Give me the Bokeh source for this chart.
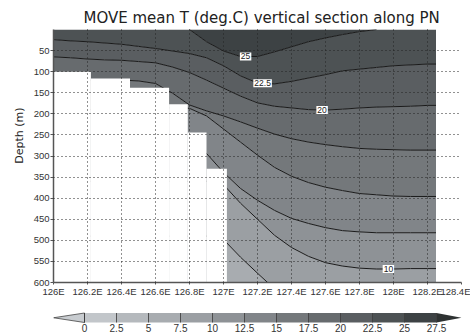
import numpy as np
from bokeh.plotting import figure
from bokeh.models import Range1d, FixedTicker, Label, Title
from bokeh.layouts import column
from bokeh.core.properties import value
from bokeh.embed import file_html
from bokeh.resources import INLINE

# ---- section data: depth (m) of each isotherm along the PN line ----
lon = [126.0, 126.1, 126.2, 126.3, 126.4, 126.5, 126.6, 126.7, 126.8, 126.9,
       127.0, 127.1, 127.2, 127.3, 127.4, 127.5, 127.6, 127.7, 127.8, 127.9,
       128.0, 128.1, 128.2, 128.25]

iso_25 = [0, 0, 0, 0, 0, 0, 0, 0, 0, 29,
          51, 64, 64, 53, 41, 29, 20, 12, 5, 0,
          0, 0, 0, 0]
iso_22_5 = [24, 27, 29, 32, 35, 40, 45, 51, 57, 67,
            86, 110, 127, 129, 123, 115, 107, 98, 94, 90,
            86, 84, 82, 82]
iso_20 = [65, 67, 70, 72, 73, 76, 79, 89, 102, 120,
          139, 158, 174, 182, 186, 190, 191, 189, 186, 184,
          183, 182, 180, 180]
iso_17_5 = [120, 120, 120, 120, 120, 122, 128, 151, 179, 193,
            205, 219, 234, 248, 259, 267, 273, 278, 282, 284,
            285, 286, 286, 286]
iso_15 = [190, 190, 190, 190, 190, 190, 190, 185, 187, 205,
          236, 267, 298, 327, 348, 363, 374, 382, 389, 392,
          395, 396, 396, 396]
iso_12_5 = [290, 290, 290, 290, 290, 290, 290, 290, 290, 294,
            339, 377, 405, 429, 448, 460, 470, 477, 480, 482,
            482, 482, 482, 482]
iso_10 = [360, 360, 360, 360, 360, 360, 360, 360, 360, 360,
          368, 412, 450, 488, 517, 538, 553, 561, 566, 568,
          568, 567, 567, 567]
iso_7_5 = [490, 490, 490, 490, 490, 490, 490, 490, 490, 490,
           498, 540, 578, 615, 640, 650, 650, 650, 650, 650,
           650, 650, 650, 650]

isotherms = [(25.0, iso_25), (22.5, iso_22_5), (20.0, iso_20), (17.5, iso_17_5),
             (15.0, iso_15), (12.5, iso_12_5), (10.0, iso_10), (7.5, iso_7_5)]

# bottom topography (steps) along the section
shelf_edges = [126.0, 126.22, 126.45, 126.68, 126.79, 126.9, 127.02]
shelf_depth = [100, 116, 138, 177, 244, 330]

# shading levels and colours (below 0, 0-2.5, ..., above 27.5)
levels = [0, 2.5, 5, 7.5, 10, 12.5, 15, 17.5, 20, 22.5, 25, 27.5]
level_labels = ["0", "2.5", "5", "7.5", "10", "12.5", "15", "17.5", "20", "22.5", "25", "27.5"]
shade = ["#c8ccd0", "#c2c6ca", "#b5b9bd", "#a8acb0", "#9b9fa3", "#8e9296",
         "#818589", "#74787b", "#676b6e", "#5a5e61", "#4d5254", "#3d4244", "#2e3232"]

# contour labels: (level, longitude of label)
contour_labels = [(25.0, 127.13), (22.5, 127.23), (20.0, 127.58), (10.0, 127.97)]

x_ticks = [126.0, 126.2, 126.4, 126.6, 126.8, 127.0, 127.2, 127.4, 127.6, 127.8, 128.0, 128.2, 128.4]
x_tick_labels = ["126E", "126.2E", "126.4E", "126.6E", "126.8E", "127E", "127.2E",
                 "127.4E", "127.6E", "127.8E", "128E", "128.2E", "128.4E"]
y_ticks = [50, 100, 150, 200, 250, 300, 350, 400, 450, 500, 550, 600]

title_text = "MOVE mean T (deg.C) vertical section along PN"
y_title = "Depth (m)"

TICK_FONT = "Liberation Sans"
TITLE_FONT = "DejaVu Sans"
BORDER_LEFT, BORDER_RIGHT = 53, 9


def band_colour(lo):
    """Colour for the interval [lo, lo + 2.5)."""
    if lo < levels[0]:
        return shade[0]
    return shade[levels.index(lo) + 1]


p = figure(width=470, height=300, x_range=Range1d(126.0, 128.4), y_range=Range1d(600, 0),
           output_backend="svg", toolbar_location=None,
           min_border_left=BORDER_LEFT, min_border_right=BORDER_RIGHT,
           min_border_top=29, min_border_bottom=18)
p.outline_line_color = None
p.background_fill_color = "white"
p.border_fill_color = "white"

x = np.array(lon, dtype=float)
upper = np.zeros(len(lon))
bottom = np.full(len(lon), p.y_range.start)

# shaded bands between successive isotherms
for lev, iso in isotherms:
    iso = np.array(iso, dtype=float)
    p.varea(x=x, y1=upper, y2=iso, fill_color=band_colour(lev))
    upper = iso
p.varea(x=x, y1=upper, y2=bottom, fill_color=band_colour(isotherms[-1][0] - 2.5))

# contour lines (hide stretches lying on the sea surface)
for lev, iso in isotherms:
    d = np.array(iso, dtype=float)
    keep = d > 0
    keep_line = keep | np.roll(keep, 1) | np.roll(keep, -1)
    keep_line[0] = keep[0] or keep[1]
    keep_line[-1] = keep[-1] or keep[-2]
    d_line = np.where(keep_line, d, np.nan)
    p.line(x, d_line, line_color="#1a1a1a", line_width=1)

# land below the sea floor
p.quad(left=shelf_edges[:-1], right=shelf_edges[1:], top=shelf_depth,
       bottom=p.y_range.start, fill_color="white", line_color=None)

# contour value labels
iso_by_level = dict(isotherms)
for lev, lab_lon in contour_labels:
    depth = float(np.interp(lab_lon, lon, iso_by_level[lev]))
    p.add_layout(Label(x=lab_lon, y=depth, text=f"{lev:g}", text_font=TICK_FONT,
                       text_font_size="8.5px", text_color="#222222", text_align="center",
                       text_baseline="middle", background_fill_color="white",
                       background_fill_alpha=1.0, padding=1))

# axes
p.xaxis.ticker = FixedTicker(ticks=x_ticks)
p.xaxis.major_label_overrides = {t: s for t, s in zip(x_ticks, x_tick_labels)}
p.yaxis.ticker = FixedTicker(ticks=y_ticks)
for ax in (p.xaxis, p.yaxis):
    ax.axis_line_color = "#555555"
    ax.axis_line_width = 1.5
    ax.major_tick_line_color = "#555555"
    ax.major_tick_out = 3
    ax.major_tick_in = 0
    ax.minor_tick_line_color = None
    ax.major_label_text_font = TICK_FONT
    ax.major_label_text_font_size = "9.5px"
    ax.major_label_text_color = "#333333"
    ax.major_label_standoff = 1
p.xaxis.major_tick_out = 2

# dotted grid drawn over the shading
for g, ticks in ((p.xgrid, x_ticks), (p.ygrid, y_ticks)):
    g.ticker = FixedTicker(ticks=ticks)
    g.grid_line_color = "#222222"
    g.grid_line_dash = "1 3"
    g.grid_line_width = 1
    g.level = "guide"

p.add_layout(Title(text=title_text, align="left", offset=30, standoff=5,
                   text_font=TITLE_FONT, text_font_size="15px", text_font_style="normal",
                   text_color="#222222"), "above")
p.add_layout(Title(text=y_title, align="right", offset=78, standoff=9,
                   text_font=TITLE_FONT, text_font_size="11px", text_font_style="normal",
                   text_color="#222222"), "left")

# ---- colour bar (frame lined up with the section above) ----
px_per_unit = 32 / 2.5
cb_origin_px = 84
cb = figure(width=470, height=36,
            x_range=Range1d((BORDER_LEFT - cb_origin_px) / px_per_unit,
                            (470 - BORDER_RIGHT - cb_origin_px) / px_per_unit),
            y_range=Range1d(36, 0), output_backend="svg", toolbar_location=None,
            x_axis_location=None, y_axis_location=None,
            min_border_left=BORDER_LEFT, min_border_right=BORDER_RIGHT,
            min_border_top=0, min_border_bottom=0)
cb.grid.visible = False
cb.outline_line_color = None
cb.background_fill_color = "white"
cb.border_fill_color = "white"

bar_top, bar_bot = 12.5, 22
bar_mid = (bar_top + bar_bot) / 2
cb.quad(left=levels[:-1], right=levels[1:], top=bar_top, bottom=bar_bot,
        fill_color=shade[1:-1], line_color=None)
step = levels[1] - levels[0]
left_tip = max(levels[0] - step, cb.x_range.start)
right_tip = min(levels[-1] + step, cb.x_range.end)
cb.patch([levels[0], left_tip, levels[0]], [bar_top, bar_mid, bar_bot],
         fill_color=shade[0], line_color="#444444", line_width=0.8)
cb.patch([levels[-1], right_tip, levels[-1]], [bar_top, bar_mid, bar_bot],
         fill_color=shade[-1], line_color=None)
cb.segment(x0=levels, y0=[bar_top] * len(levels), x1=levels, y1=[bar_bot] * len(levels),
           line_color="#333333", line_width=1, line_alpha=0.8)
cb.text(x=levels, y=[27.5] * len(levels), text=level_labels, text_font=value(TICK_FONT),
        text_font_size="10px", text_color="#333333", text_align="center",
        text_baseline="middle")

layout = column(p, cb, spacing=0)
open("out.html", "w").write(file_html(layout, INLINE))
